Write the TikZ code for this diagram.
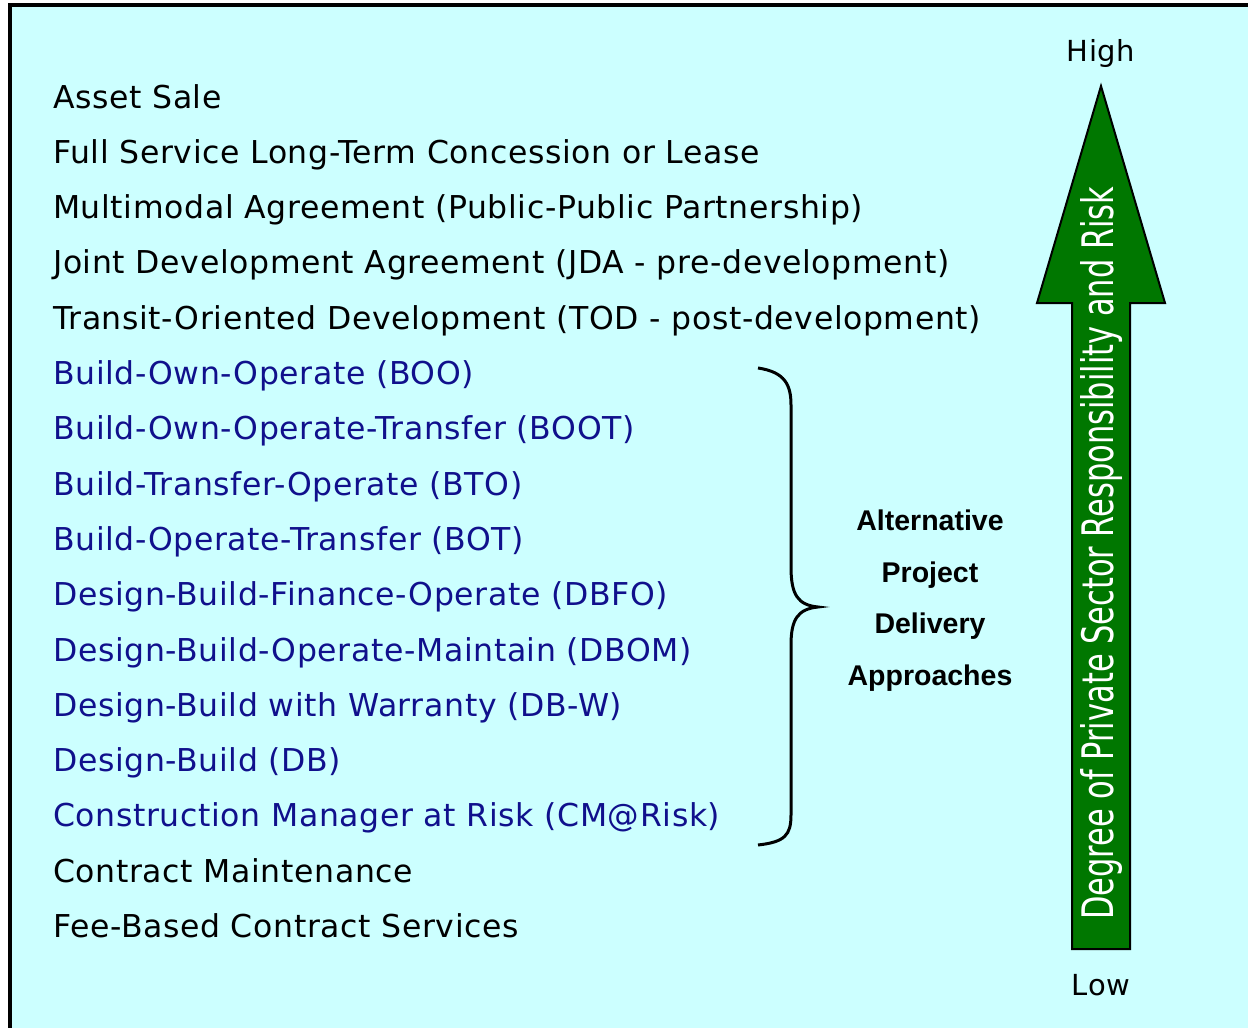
\documentclass[tikz,border=0pt]{standalone}
\usepackage{fontspec}
\setmainfont{DejaVu Sans}[LetterSpace=2]
\newfontfamily\arialfont{Liberation Sans}
\newfontfamily\arrowfont{DejaVu Sans}
\definecolor{bgcyan}{RGB}{204,255,255}
\definecolor{itemblue}{RGB}{16,16,140}
\definecolor{arrowgreen}{RGB}{0,119,0}
\tikzset{
  item/.style={anchor=base west, inner sep=0pt, font=\fontsize{31.5}{36}\selectfont},
  blueitem/.style={item, text=itemblue},
  endlabel/.style={anchor=base, inner sep=0pt, font=\fontsize{29}{34}\selectfont},
  grouplabel/.style={anchor=base, inner sep=0pt, font=\arialfont\bfseries\fontsize{28.5}{32}\selectfont},
}
\begin{document}
\begin{tikzpicture}[x=1pt,y=-1pt]
\useasboundingbox (0,0) rectangle (1248,1028);
\fill[white] (0,0) rectangle (1248,1028);
\fill[bgcyan] (10,5) rectangle (1248,1028);
\draw[line width=4.5pt] (1248,5) -- (10,5) -- (10,1028);

\node[item] (i1) at (53,108) {Asset Sale};
\node[item] (i2) at (53,163.3) {Full Service Long-Term Concession or Lease};
\node[item] (i3) at (53,218.6) {Multimodal Agreement (Public-Public Partnership)};
\node[item] (i4) at (53,273.9) {Joint Development Agreement (JDA - pre-development)};
\node[item] (i5) at (53,329.2) {Transit-Oriented Development (TOD - post-development)};
\node[blueitem] (i6) at (53,384.5) {Build-Own-Operate (BOO)};
\node[blueitem] (i7) at (53,439.8) {Build-Own-Operate-Transfer (BOOT)};
\node[blueitem] (i8) at (53,495.1) {Build-Transfer-Operate (BTO)};
\node[blueitem] (i9) at (53,550.4) {Build-Operate-Transfer (BOT)};
\node[blueitem] (i10) at (53,605.7) {Design-Build-Finance-Operate (DBFO)};
\node[blueitem] (i11) at (53,661.0) {Design-Build-Operate-Maintain (DBOM)};
\node[blueitem] (i12) at (53,716.3) {Design-Build with Warranty (DB-W)};
\node[blueitem] (i13) at (53,771.6) {Design-Build (DB)};
\node[blueitem] (i14) at (53,826.9) {Construction Manager at Risk (CM@Risk)};
\node[item] (i15) at (53,882.2) {Contract Maintenance};
\node[item] (i16) at (53,937.5) {Fee-Based Contract Services};

% brace
\draw[line width=3pt] (758,368) .. controls (785,372) and (791,385) .. (791,405)
  -- (791,567) .. controls (791,595) and (798,605) .. (818,607)
  .. controls (798,609) and (791,619) .. (791,645)
  -- (791,815) .. controls (791,835) and (785,842) .. (758,845);

\node[grouplabel] (g1) at (930,530) {Alternative};
\node[grouplabel] (g2) at (930,582) {Project};
\node[grouplabel] (g3) at (930,633) {Delivery};
\node[grouplabel] (g4) at (930,685) {Approaches};

% arrow
\draw[fill=arrowgreen, line width=2pt, line join=miter]
  (1101,86) -- (1165,303) -- (1130,303) -- (1130,949) -- (1072,949) -- (1072,303) -- (1037,303) -- cycle;
\node[anchor=base west, inner sep=0pt, rotate=90, text=white] (arrowtext) at (1113,920)
  {\resizebox{733pt}{33pt}{\arrowfont\fontsize{42}{42}\selectfont Degree of Private Sector Responsibility and Risk}};

\node[endlabel] (high) at (1101,61) {High};
\node[endlabel] (low) at (1101,995) {Low};
\end{tikzpicture}
\end{document}
